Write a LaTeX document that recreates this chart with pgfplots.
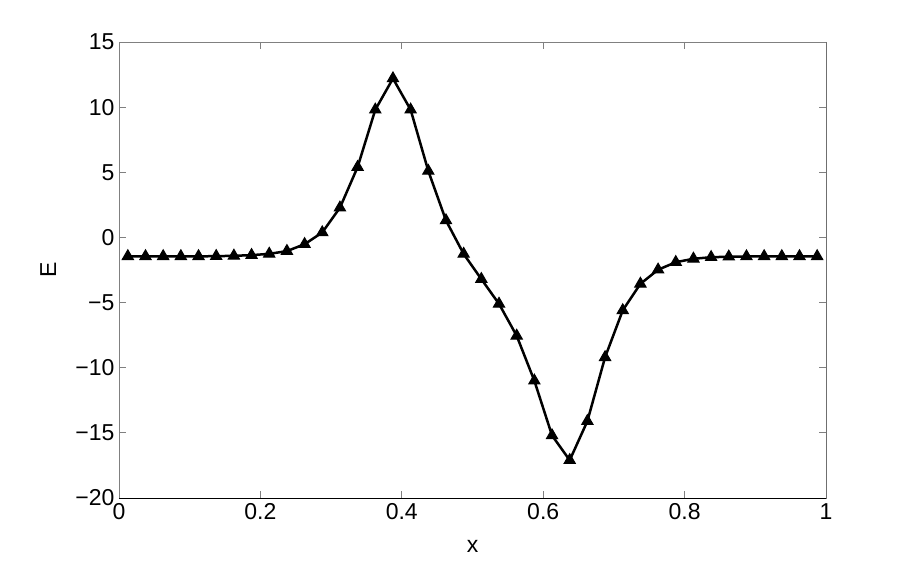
\documentclass[border=0pt]{standalone}
\usepackage{fontspec}
\setmainfont{Liberation Sans}
\usepackage{pgfplots}
\pgfplotsset{compat=1.18}
\begin{document}
\begin{tikzpicture}
\begin{axis}[
  at={(0,0)}, anchor=south west,
  scale only axis, width=707pt, height=456pt,
  xmin=0, xmax=1, ymin=-20, ymax=15,
  xtick={0,0.2,0.4,0.6,0.8,1},
  xticklabels={0,0.2,0.4,0.6,0.8,1},
  ytick={-20,-15,-10,-5,0,5,10,15},
  yticklabels={−20,−15,−10,−5,0,5,10,15},
  tick align=inside, major tick length=7pt,
  tick style={black!50, line width=0.8pt},
  axis line style={black!50, line width=0.9pt},
  ticklabel style={font=\fontsize{23}{27}\selectfont},
  yticklabel style={anchor=east, xshift=-1pt},
  xticklabel style={anchor=north, yshift=-2pt},
  xlabel={x}, ylabel={E},
  label style={font=\fontsize{23}{27}\selectfont},
  xlabel style={at={(axis description cs:0.5,0)}, anchor=base, yshift=-54pt},
  ylabel style={at={(axis description cs:-0.1,0.5)}, anchor=center},
]
\addplot[black, line width=2.5pt, mark=triangle*, mark size=6.5pt,
  mark options={fill=black, line width=1pt}] coordinates {
(0.0125,-1.45) (0.0375,-1.45) (0.0625,-1.45) (0.0875,-1.45) (0.1125,-1.45)
(0.1375,-1.44) (0.1625,-1.41) (0.1875,-1.36) (0.2125,-1.26) (0.2375,-1.05)
(0.2625,-0.52) (0.2875,0.38) (0.3125,2.28) (0.3375,5.4) (0.3625,9.8)
(0.3875,12.2) (0.4125,9.8) (0.4375,5.1) (0.4625,1.3) (0.4875,-1.27)
(0.5125,-3.2) (0.5375,-5.1) (0.5625,-7.55) (0.5875,-11.0) (0.6125,-15.2)
(0.6375,-17.1) (0.6625,-14.1) (0.6875,-9.2) (0.7125,-5.6) (0.7375,-3.56)
(0.7625,-2.48) (0.7875,-1.9) (0.8125,-1.64) (0.8375,-1.52) (0.8625,-1.48)
(0.8875,-1.46) (0.9125,-1.45) (0.9375,-1.45) (0.9625,-1.45) (0.9875,-1.45)
};
\draw[black, line width=0.9pt] (rel axis cs:0,0) -- (rel axis cs:1,0) -- (rel axis cs:1,1);
\end{axis}
\pgfresetboundingbox
\useasboundingbox (-119pt,-62pt) rectangle (794pt,498pt);
\end{tikzpicture}
\end{document}
